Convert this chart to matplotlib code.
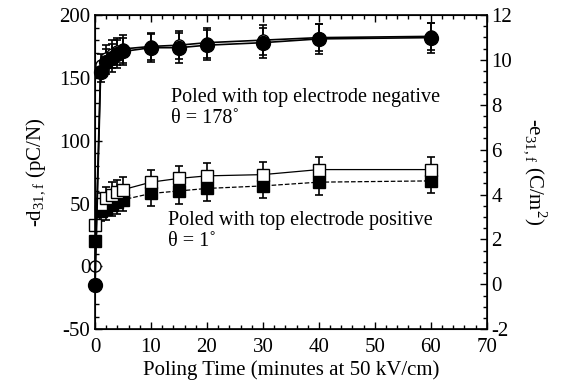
import numpy as np
import matplotlib
matplotlib.use('Agg')
import matplotlib.pyplot as plt
from matplotlib.ticker import MultipleLocator

plt.rcParams['font.family'] = ['Liberation Serif', 'DejaVu Serif']
plt.rcParams['mathtext.fontset'] = 'custom'
plt.rcParams['mathtext.rm'] = 'Liberation Serif'
plt.rcParams['axes.unicode_minus'] = False

# poling time (minutes)
t = [0, 1, 2, 3, 4, 5, 10, 15, 20, 30, 40, 60]

# top electrode negative
neg_d31 = [-15, 155, 163, 166, 169, 171, 174, 174, 176, 178, 181, 182]
neg_d31_err = [0, 8, 10, 11, 11, 11, 11, 12, 12, 12, 12, 12]
neg_e31 = [0, 160, 166, 169, 171, 173, 175, 176, 178, 180, 182, 183]
neg_e31_err = [0, 9, 10, 11, 11, 11, 11, 11, 12, 12, 11, 11]

# top electrode positive
pos_e31 = [33, 50, 54, 57, 59, 61, 67, 70, 72, 73, 77, 77]
pos_e31_err = [0, 8, 9, 10, 10, 10, 10, 10, 10, 10, 10, 10]
pos_d31 = [20, 44, 46, 49, 51, 53, 58, 60, 62, 64, 67, 68]
pos_d31_err = [0, 8, 9, 9, 9, 9, 10, 10, 10, 10, 10, 10]

fig = plt.figure(figsize=(5.66, 3.85), dpi=100)
ax = fig.add_axes([0.168, 0.145, 0.692, 0.816])

ekw = dict(ecolor='black', elinewidth=1.2, capsize=3, capthick=1.2, color='black')
series = [
    (pos_d31, pos_d31_err, 's', '--', 0.9, 9, 'black'),
    (pos_e31, pos_e31_err, 's', '-', 0.9, 8, 'white'),
    (neg_e31, neg_e31_err, 'o', '-', 1.2, 8, 'white'),
    (neg_d31, neg_d31_err, 'o', '-', 1.2, 10, 'black'),
]
for y, e, m, ls, lw, ms, fc in series:
    cont = ax.errorbar(t, y, yerr=e, fmt=m, ls=ls, lw=lw, ms=ms,
                       mfc=fc, mec='black', **ekw)
    for art in cont.get_children():
        art.set_clip_on(False)

ax.set_xlim(0, 70)
ax.set_ylim(-50, 200)
ax.xaxis.set_major_locator(MultipleLocator(10))
ax.xaxis.set_minor_locator(MultipleLocator(2))
ax.yaxis.set_major_locator(MultipleLocator(50))
ax.yaxis.set_minor_locator(MultipleLocator(10))
ax.tick_params(which='both', direction='in', top=True, labelsize=15, width=1)
ax.tick_params(which='major', length=5)
ax.tick_params(which='minor', length=3)
ax.tick_params(axis='x', pad=6)
for s in ax.spines.values():
    s.set_linewidth(1.2)

ax.set_xlabel('Poling Time (minutes at 50 kV/cm)', fontsize=15, labelpad=3)
ax.set_ylabel('-d$_{\\mathrm{31,f}}$ (pC/N)', fontsize=15, labelpad=8)

ax2 = ax.twinx()
ax2.set_ylim(-2, 12)
ax2.yaxis.set_major_locator(MultipleLocator(2))
ax2.yaxis.set_minor_locator(MultipleLocator(0.5))
ax2.tick_params(which='both', direction='in', labelsize=15, width=1)
ax2.tick_params(which='major', length=5)
ax2.tick_params(which='minor', length=3)
ax2.set_ylabel('-e$_{\\mathrm{31,f}}$ (C/m$^{\\mathrm{2}}$)', fontsize=15,
               rotation=270, labelpad=26)

ax.text(13.5, 126, 'Poled with top electrode negative\n\u03b8 = 178\u02da', fontsize=14.5,
        va='center', ha='left', linespacing=1.1)
ax.text(13, 28, 'Poled with top electrode positive\n\u03b8 = 1\u02da', fontsize=14.5,
        va='center', ha='left', linespacing=1.1)

fig.savefig('out.png', dpi=100)
